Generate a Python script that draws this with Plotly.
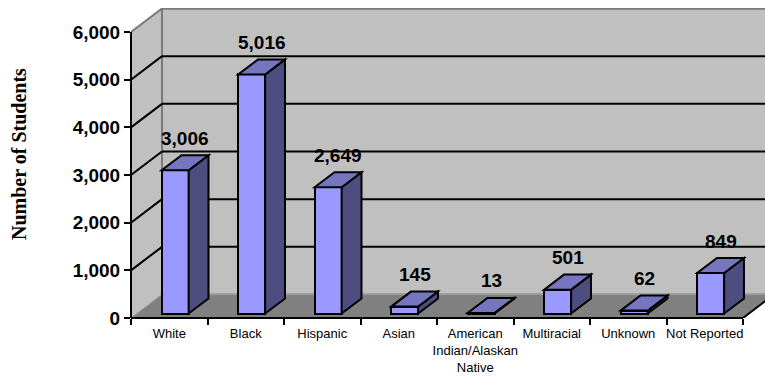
import plotly.graph_objects as go

# ---------------- data ----------------
categories = ["White", "Black", "Hispanic", "Asian",
              "American<br>Indian/Alaskan<br>Native",
              "Multiracial", "Unknown", "Not Reported"]
students = [3006, 5016, 2649, 145, 13, 501, 62, 849]
y_ticks = [0, 1000, 2000, 3000, 4000, 5000, 6000]
y_title = "Number of Students"

# ---------------- geometry / style ----------------
W, H = 765, 380
ML, MR, MT, MB = 131, 0, 8, 62
plot_w = W - ML - MR
plot_h = H - MT - MB
cat_px = 76.5                      # pixels per category
px_per_val = 286.0 / y_ticks[-1]   # pixels per student
x_lo = -0.5
x_hi = x_lo + plot_w / cat_px
y_hi = plot_h / px_per_val
n = len(categories)
x_end = x_lo + n
y_max = y_ticks[-1]

DX = 31.0 / cat_px        # depth offset (x, data units)
DY = 23.5 / px_per_val    # depth offset (y, data units)
F0, F1 = 0.19, 0.83       # bar depth start / end fractions
BW = 0.353                # bar width (category units)

FRONT = "#9999FF"
SIDE = "#4D4D80"
TOP = "#7575C0"
WALL = "#C0C0C0"
FLOOR = "#808080"
SANS = "Liberation Sans, Arial, sans-serif"
SERIF = "Liberation Serif, Times New Roman, serif"

xs = list(range(n))

def poly(pts):
    return "M " + " L ".join(f"{px} {py}" for px, py in pts) + " Z"

shapes = []
# left wall
shapes.append(dict(type="path", xref="x", yref="y", layer="below",
                   path=poly([(x_lo, 0), (x_lo + DX, DY), (x_lo + DX, y_max + DY), (x_lo, y_max)]),
                   fillcolor=WALL, line=dict(color="#808080", width=1)))
# back wall
shapes.append(dict(type="rect", xref="x", yref="y", layer="below",
                   x0=x_lo + DX, x1=x_end + DX, y0=DY, y1=y_max + DY,
                   fillcolor=WALL, line=dict(color="#7a7a7a", width=2)))
# floor
shapes.append(dict(type="path", xref="x", yref="y", layer="below",
                   path=poly([(x_lo, 0), (x_end, 0), (x_end + DX, DY), (x_lo + DX, DY)]),
                   fillcolor=FLOOR, line=dict(color="#A0A0A0", width=1)))
# gridlines: back wall + left wall diagonals
for v in y_ticks[1:]:
    col = "black" if v < y_max else "#7a7a7a"
    shapes.append(dict(type="line", xref="x", yref="y", layer="below",
                       x0=x_lo + DX, x1=x_end + DX, y0=v + DY, y1=v + DY,
                       line=dict(color=col, width=2)))
    shapes.append(dict(type="line", xref="x", yref="y", layer="below",
                       x0=x_lo, x1=x_lo + DX, y0=v, y1=v + DY,
                       line=dict(color=col, width=2)))

# bar sides and tops
ddx = (F1 - F0) * DX
ddy = (F1 - F0) * DY
for i, v in zip(xs, students):
    xl = i - BW / 2 + F0 * DX
    xr = i + BW / 2 + F0 * DX
    b = F0 * DY
    t = v + F0 * DY
    shapes.append(dict(type="path", xref="x", yref="y", layer="above",
                       path=poly([(xr, b), (xr + ddx, b + ddy), (xr + ddx, t + ddy), (xr, t)]),
                       fillcolor=SIDE, line=dict(color="black", width=2)))
    shapes.append(dict(type="path", xref="x", yref="y", layer="above",
                       path=poly([(xl, t), (xr, t), (xr + ddx, t + ddy), (xl + ddx, t + ddy)]),
                       fillcolor=TOP, line=dict(color="black", width=2)))

# axis lines
shapes.append(dict(type="line", xref="paper", yref="y", x0=0, x1=0, y0=0, y1=y_max,
                   line=dict(color="black", width=2)))
shapes.append(dict(type="line", xref="x", yref="paper", x0=x_lo, x1=x_end, y0=0, y1=0,
                   line=dict(color="black", width=2)))
shapes.append(dict(type="line", xref="x", yref="y", x0=x_end, x1=x_end + DX, y0=0, y1=DY,
                   line=dict(color="black", width=2)))

fig = go.Figure()
fig.add_trace(go.Bar(
    x=xs, y=students, base=F0 * DY, width=BW, offset=-BW / 2 + F0 * DX,
    marker=dict(color=FRONT, line=dict(color="black", width=2)),
    hoverinfo="skip", showlegend=False))

annotations = []
for i, v in zip(xs, students):
    annotations.append(dict(
        x=i + (F0 + F1) / 2 * DX, y=v + F1 * DY, xref="x", yref="y",
        text=f"{v:,}", showarrow=False, yanchor="middle", yshift=17,
        font=dict(family=SANS, size=19, color="black", weight="bold")))
annotations.append(dict(
    x=(19 - ML) / plot_w, y=(H - MB - 154) / plot_h, xref="paper", yref="paper",
    text=y_title, textangle=-90, showarrow=False,
    xanchor="center", yanchor="middle",
    font=dict(family=SERIF, size=20, color="black", weight="bold")))

fig.update_layout(
    width=W, height=H,
    margin=dict(l=ML, r=MR, t=MT, b=MB, pad=0),
    paper_bgcolor="white", plot_bgcolor="white",
    shapes=shapes, annotations=annotations,
    xaxis=dict(range=[x_lo, x_hi], tickmode="array", tickvals=xs, ticktext=categories,
               ticks="", showgrid=False, zeroline=False, showline=False,
               ticklabelstandoff=6,
               tickfont=dict(family=SANS, size=13, color="black"),
               minor=dict(tickmode="array", tickvals=[x_lo + k for k in range(n + 1)],
                          ticks="outside", ticklen=6, tickwidth=2, tickcolor="black",
                          showgrid=False)),
    yaxis=dict(range=[0, y_hi], tickmode="array", tickvals=y_ticks,
               ticktext=[f"{v:,}" for v in y_ticks],
               ticks="outside", ticklen=6, tickwidth=2, tickcolor="black",
               showgrid=False, zeroline=False, showline=False,
               tickfont=dict(family=SANS, size=19, color="black", weight="bold")),
    bargap=0,
)

fig.write_html("out.html")
